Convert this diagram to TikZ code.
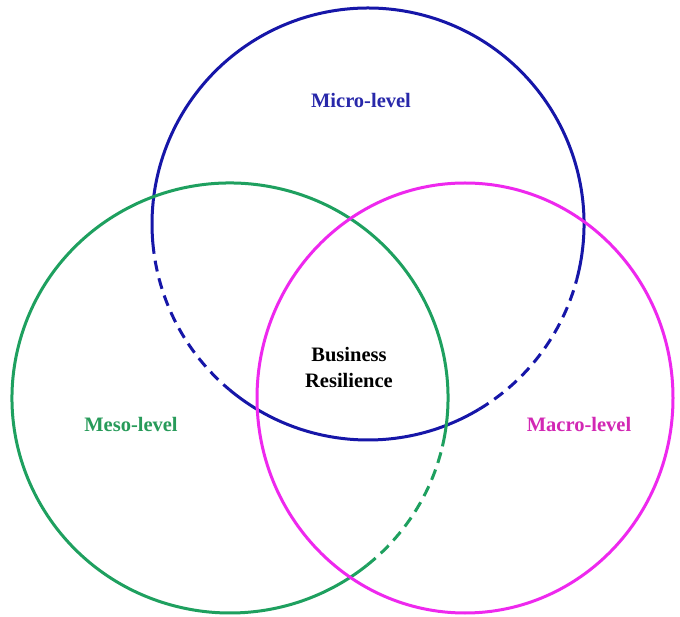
\documentclass[tikz,border=0pt]{standalone}
\usepackage{fontspec}
\setmainfont{Liberation Serif}
\definecolor{microc}{RGB}{22,22,168}
\definecolor{mesoc}{RGB}{30,160,95}
\definecolor{macroc}{RGB}{238,40,238}
\definecolor{microt}{RGB}{40,40,170}
\definecolor{mesot}{RGB}{40,155,90}
\definecolor{macrot}{RGB}{210,40,180}
\begin{document}
\begin{tikzpicture}[x=1pt,y=1pt,
  ring/.style={line width=3pt},
  dashring/.style={line width=3pt,dash pattern=on 11pt off 7pt},
  lbl/.style={font=\fontsize{20.5}{24}\selectfont\bfseries,inner sep=0pt}]
\useasboundingbox (0,0) rectangle (680,616);
\fill[white] (0,0) rectangle (680,616);
\coordinate (cb) at (368,392);
\coordinate (cg) at (230,218);
\coordinate (cm) at (465,218);
% Micro (blue)
\draw[ring,microc] (cb) ++(345:216) arc[start angle=345,end angle=545,radius=216];
\draw[dashring,microc] (cb) ++(185:216) arc[start angle=185,end angle=230,radius=216];
\draw[ring,microc] (cb) ++(230:216) arc[start angle=230,end angle=301,radius=216];
\draw[dashring,microc] (cb) ++(301:216) arc[start angle=301,end angle=345,radius=216];
% Meso (green)
\draw[ring,mesoc] (cg) ++(-13:218 and 215) arc[start angle=-13,end angle=309,x radius=218,y radius=215];
\draw[dashring,mesoc] (cg) ++(-51:218 and 215) arc[start angle=-51,end angle=-13,x radius=218,y radius=215];
% Macro (magenta)
\draw[ring,macroc] (cm) ellipse[x radius=208,y radius=215];
% Labels
\node[lbl,microt] (micro) at (361,516) {Micro-level};
\node[lbl,mesot] (meso) at (131,192) {Meso-level};
\node[lbl,macrot] (macro) at (579,192) {Macro-level};
\node[lbl,black,align=center,font=\fontsize{20.5}{26}\selectfont\bfseries] (br) at (349,249) {Business\\Resilience};
\end{tikzpicture}
\end{document}
